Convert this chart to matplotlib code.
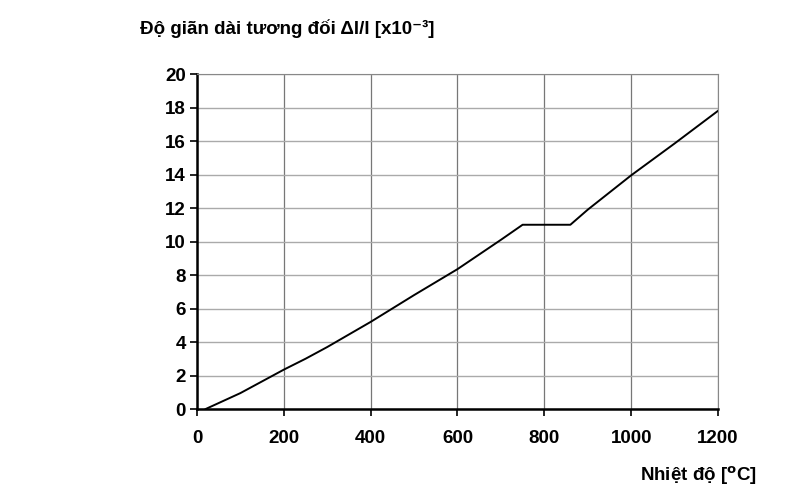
import matplotlib
matplotlib.use("Agg")
import matplotlib.pyplot as plt

# temperature [C] and relative elongation [x10^-3]
temp = [20, 100, 150, 200, 250, 300, 400, 500, 600, 700, 750, 860, 900, 1000, 1100, 1200]
elong = [0, 0.95, 1.65, 2.35, 3.0, 3.7, 5.2, 6.8, 8.35, 10.1, 11.0, 11.0, 11.9, 13.95, 15.85, 17.8]

x_ticks = [0, 200, 400, 600, 800, 1000, 1200]
y_ticks = [0, 2, 4, 6, 8, 10, 12, 14, 16, 18, 20]

plt.rcParams['font.family'] = ['Liberation Sans', 'DejaVu Sans']
plt.rcParams['font.weight'] = 'bold'
plt.rcParams['mathtext.fontset'] = 'custom'
plt.rcParams['mathtext.rm'] = 'Liberation Sans:bold'
plt.rcParams['mathtext.bf'] = 'Liberation Sans:bold'
plt.rcParams['mathtext.it'] = 'Liberation Sans:bold'

fig = plt.figure(figsize=(8.11, 4.96), dpi=100)
ax = fig.add_axes([0.2429, 0.1754, 0.6424, 0.6754])

ax.plot(temp, elong, color='black', linewidth=1.4)

ax.set_xlim(0, 1200)
ax.set_ylim(0, 20)
ax.set_xticks(x_ticks)
ax.set_yticks(y_ticks)
ax.tick_params(labelsize=13.5, direction='out', length=5, width=1.2, color='black')
ax.tick_params(axis='x', pad=10)
ax.tick_params(axis='y', pad=3)
for lab in ax.get_xticklabels() + ax.get_yticklabels():
    lab.set_fontweight('bold')

ax.grid(True, axis='x', color='#777777', linewidth=0.9)
ax.grid(True, axis='y', color='#aaaaaa', linewidth=1.0)
ax.set_axisbelow(True)
ax.spines['left'].set_linewidth(1.8)
ax.spines['bottom'].set_linewidth(1.8)
ax.spines['top'].set_color('#888888')
ax.spines['right'].set_color('#888888')

fig.text(140 / 811, 1 - 29 / 496, 'Độ giãn dài tương đối Δl/l [x10⁻³]',
         fontsize=13.5, fontweight='bold', ha='left', va='center')
fig.text(757 / 811, 1 - 476 / 496, 'Nhiệt độ [$^{\\mathsf{o}}$C]',
         fontsize=13.5, fontweight='bold', ha='right', va='center')

fig.savefig('out.png', dpi=100)
